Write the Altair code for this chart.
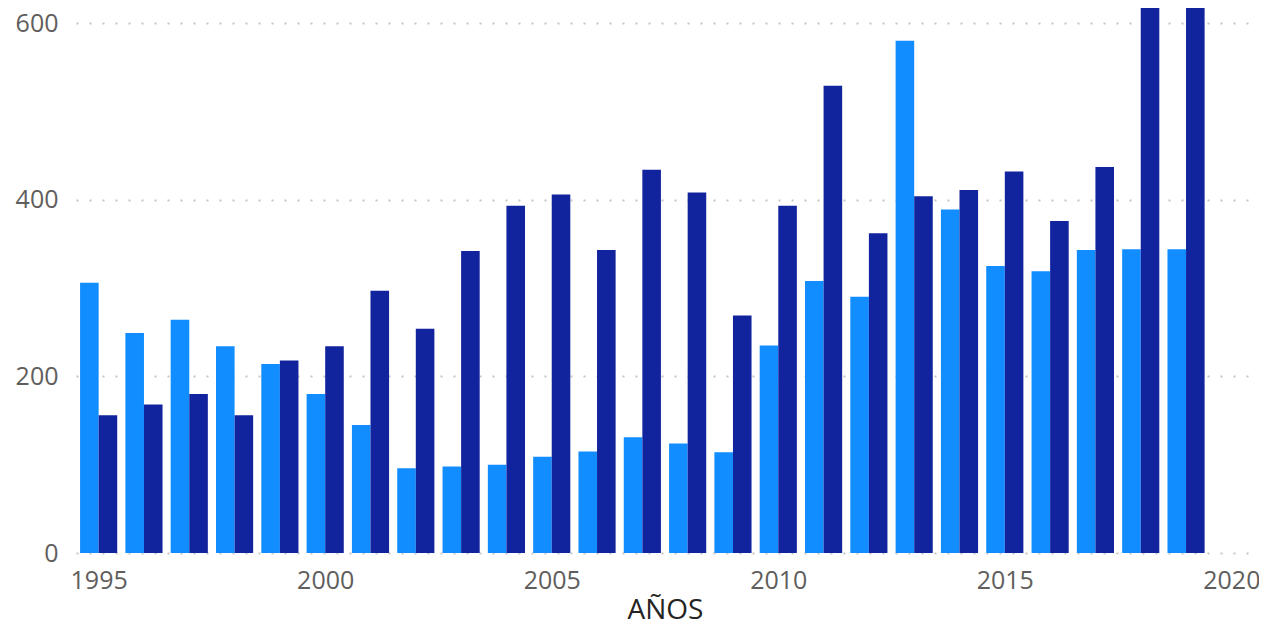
import altair as alt
import pandas as pd

years = list(range(1995, 2020))
serie_clara = [306, 249, 264, 234, 214, 180, 145, 96, 98, 100, 109, 115, 131, 124, 114,
               235, 308, 290, 580, 389, 325, 319, 343, 344, 344]
serie_oscura = [156, 168, 180, 156, 218, 234, 297, 254, 342, 393, 406, 343, 434, 408, 269,
                393, 529, 362, 404, 411, 432, 376, 437, 680, 690]
x_ticks = [1995, 2000, 2005, 2010, 2015, 2020]
y_ticks = [0, 200, 400, 600]

rows = []
for i, y in enumerate(years):
    rows.append({"year": y, "serie": "A", "value": serie_clara[i]})
    rows.append({"year": y, "serie": "B", "value": serie_oscura[i]})
df = pd.DataFrame(rows)

FONT = "Open Sans"

bars = (
    alt.Chart(df)
    .transform_calculate(
        x0="datum.serie == 'A' ? datum.year - 0.41 : datum.year",
        x1="datum.serie == 'A' ? datum.year : datum.year + 0.41",
    )
    .mark_bar(clip=True, cornerRadius=0)
    .encode(
        x=alt.X(
            "x0:Q",
            scale=alt.Scale(domain=[1994.5, 2020.5], nice=False, zero=False),
            axis=alt.Axis(
                values=x_ticks,
                format="d",
                title="AÑOS",
                grid=False,
                domain=False,
                ticks=False,
                labelFont=FONT,
                labelFontSize=25,
                labelColor="#605E5C",
                labelPadding=15,
                labelFlush=False,
                labelOverlap=False,
                titleFont=FONT,
                titleFontSize=28,
                titleFontWeight="normal",
                titleColor="#252423",
                titleBaseline="alphabetic",
                titleY=65,
            ),
        ),
        x2="x1:Q",
        y=alt.Y(
            "value:Q",
            scale=alt.Scale(domain=[0, 617], nice=False),
            axis=alt.Axis(
                values=y_ticks,
                title=None,
                domain=False,
                ticks=False,
                labelFont=FONT,
                labelFontSize=25,
                labelColor="#605E5C",
                labelPadding=18,
                gridColor="#C8C6C4",
                gridDash=[2, 11],
                gridWidth=2,
            ),
        ),
        y2=alt.datum(0),
        color=alt.Color(
            "serie:N",
            scale=alt.Scale(domain=["A", "B"], range=["#118DFF", "#12239E"]),
            legend=None,
        ),
    )
)

chart = (
    bars.properties(
        width=1178,
        height=545,
        autosize=alt.AutoSizeParams(type="none"),
        padding={"left": 68, "top": 0, "right": 5, "bottom": 66},
    )
    .configure_view(stroke=None)
)

chart.save("out.html", embed_options={"renderer": "svg", "actions": False})
